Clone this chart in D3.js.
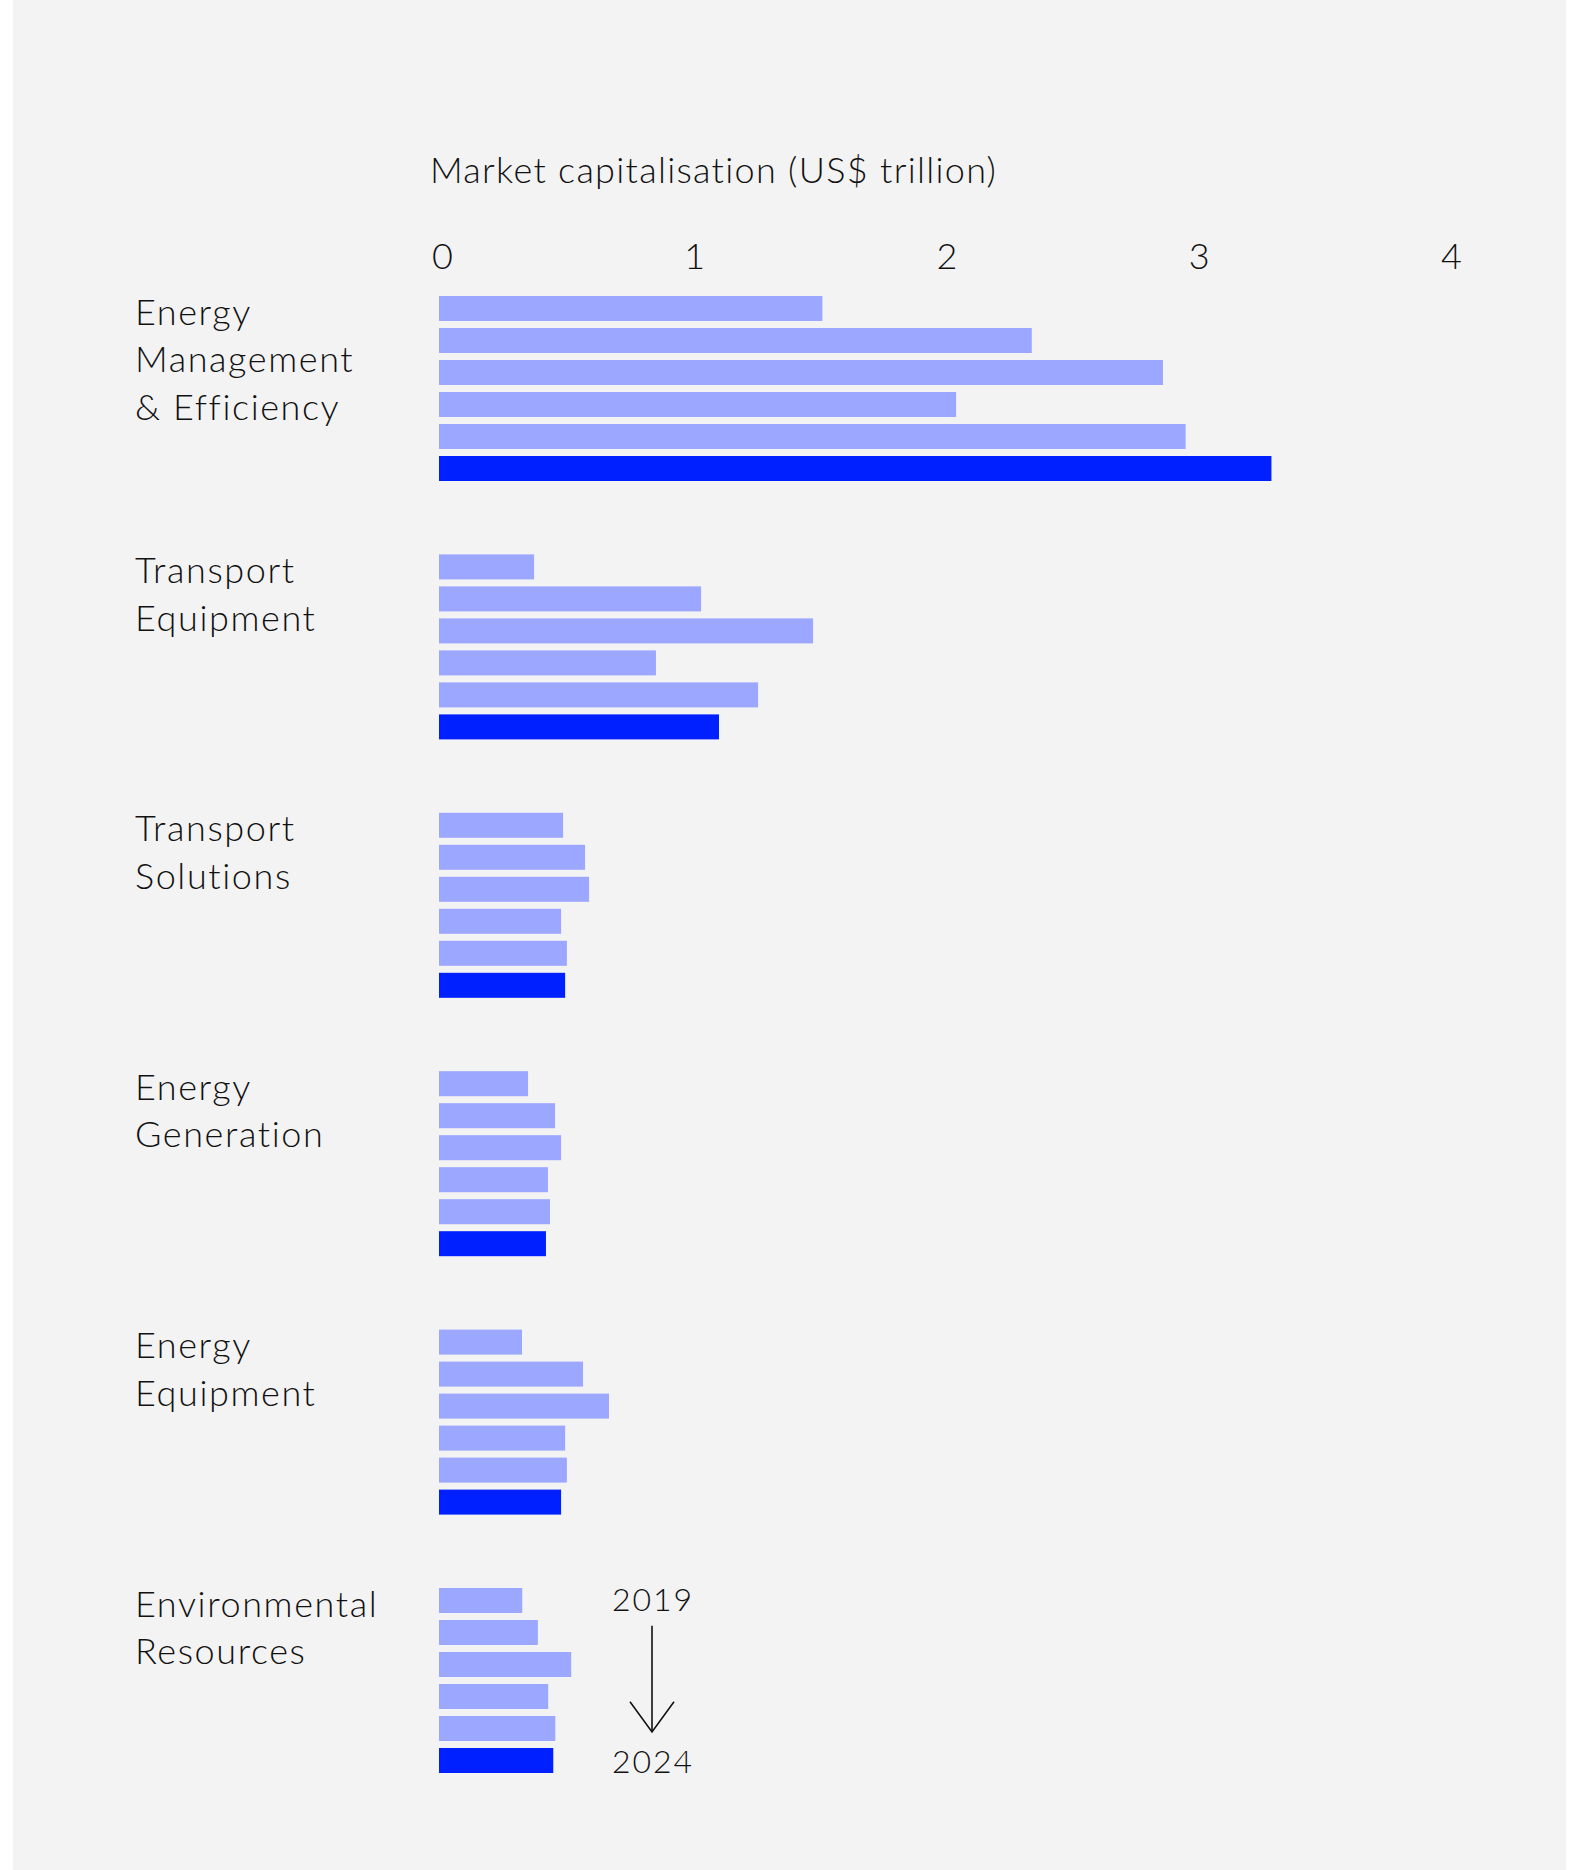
<!DOCTYPE html>
<html>
<head>
<meta charset="utf-8">
<script src="https://cdn.jsdelivr.net/npm/d3@7"></script>
<style>
  body { margin: 0; background: #ffffff; }
  svg { display: block; }
  text { font-family: Lato, "Open Sans", sans-serif; font-weight: 300; fill: #111; }
</style>
</head>
<body>
<div id="chart"></div>
<script>
// categories, top to bottom
const categories = [
    ['Energy', 'Management', '& Efficiency'],
    ['Transport', 'Equipment'],
    ['Transport', 'Solutions'],
    ['Energy', 'Generation'],
    ['Energy', 'Equipment'],
    ['Environmental', 'Resources']
];
const years = [2019, 2020, 2021, 2022, 2023, 2024];

// market cap, US$ trillion, 2019 -> 2024
const energyMgmt = [1.52, 2.35, 2.87, 2.05, 2.96, 3.30];
const transportEquip = [0.377, 1.039, 1.483, 0.860, 1.265, 1.110];
const transportSol = [0.492, 0.579, 0.595, 0.484, 0.507, 0.500];
const energyGen = [0.353, 0.460, 0.484, 0.432, 0.440, 0.424];
const energyEquip = [0.329, 0.571, 0.674, 0.500, 0.507, 0.484];
const envResources = [0.330, 0.392, 0.524, 0.433, 0.461, 0.453];
const series = [energyMgmt, transportEquip, transportSol, energyGen, energyEquip, envResources];

const xTicks = [0, 1, 2, 3, 4];
const axisTitle = 'Market capitalisation (US$ trillion)';

const width = 1573, height = 1870;
const svg = d3.select('#chart').append('svg')
    .attr('width', width)
    .attr('height', height);

// 背景面板
svg.append('rect')
    .attr('x', 13).attr('y', 0)
    .attr('width', 1553).attr('height', height)
    .attr('fill', '#f3f3f3');

const x = d3.scaleLinear().domain([0, 4]).range([439, 1448]);

const groupY = d3.scaleBand()
    .domain(d3.range(categories.length))
    .range([296, 296 + 258.4 * categories.length]);

const barY = d3.scaleBand()
    .domain(years)
    .range([0, 185])
    .paddingInner(7 / 32);

// axis title + tick labels
svg.append('text')
    .attr('x', 430).attr('y', 183)
    .attr('font-size', 36)
    .attr('letter-spacing', 1.3)
    .text(axisTitle);

const axis = svg.append('g')
    .attr('transform', 'translate(3,269)')
    .call(d3.axisTop(x).tickValues(xTicks).tickFormat(d3.format('d')).tickSize(0).tickPadding(0));
axis.select('.domain').remove();
axis.selectAll('text')
    .attr('font-size', 36)
    .attr('font-family', null)
    .attr('dy', 0);

// groups
const groups = svg.selectAll('.group')
    .data(series)
    .join('g')
    .attr('class', 'group')
    .attr('transform', (d, i) => `translate(0,${groupY(i)})`);

groups.selectAll('rect')
    .data(d => d.map((v, j) => ({ v, year: years[j] })))
    .join('rect')
    .attr('x', x(0))
    .attr('y', d => barY(d.year))
    .attr('width', d => x(d.v) - x(0))
    .attr('height', barY.bandwidth())
    .attr('fill', d => d.year === 2024 ? '#0020ff' : '#9ca7ff');

groups.append('text')
    .attr('x', 135)
    .attr('y', 28.5)
    .attr('font-size', 36)
    .attr('letter-spacing', 1.6)
    .selectAll('tspan')
    .data((d, i) => categories[i])
    .join('tspan')
    .attr('x', 135)
    .attr('dy', (d, k) => k === 0 ? 0 : 47.7)
    .text(d => d);

// legend arrow 2019 -> 2024
const last = groupY(categories.length - 1);
const lx = 652;
svg.append('text')
    .attr('x', lx + 1).attr('y', last + 22.7)
    .attr('text-anchor', 'middle')
    .attr('font-size', 32)
    .attr('letter-spacing', 2)
    .text(years[0]);
svg.append('text')
    .attr('x', lx + 1).attr('y', last + 184.7)
    .attr('text-anchor', 'middle')
    .attr('font-size', 32)
    .attr('letter-spacing', 2)
    .text(years[years.length - 1]);
svg.append('line')
    .attr('x1', lx).attr('x2', lx)
    .attr('y1', last + 37.7).attr('y2', last + 144)
    .attr('stroke', '#111').attr('stroke-width', 1.6);
svg.append('path')
    .attr('d', `M${lx - 22},${last + 113.7}L${lx},${last + 144}L${lx + 22},${last + 113.7}`)
    .attr('fill', 'none')
    .attr('stroke', '#111').attr('stroke-width', 1.6);
</script>
</body>
</html>
